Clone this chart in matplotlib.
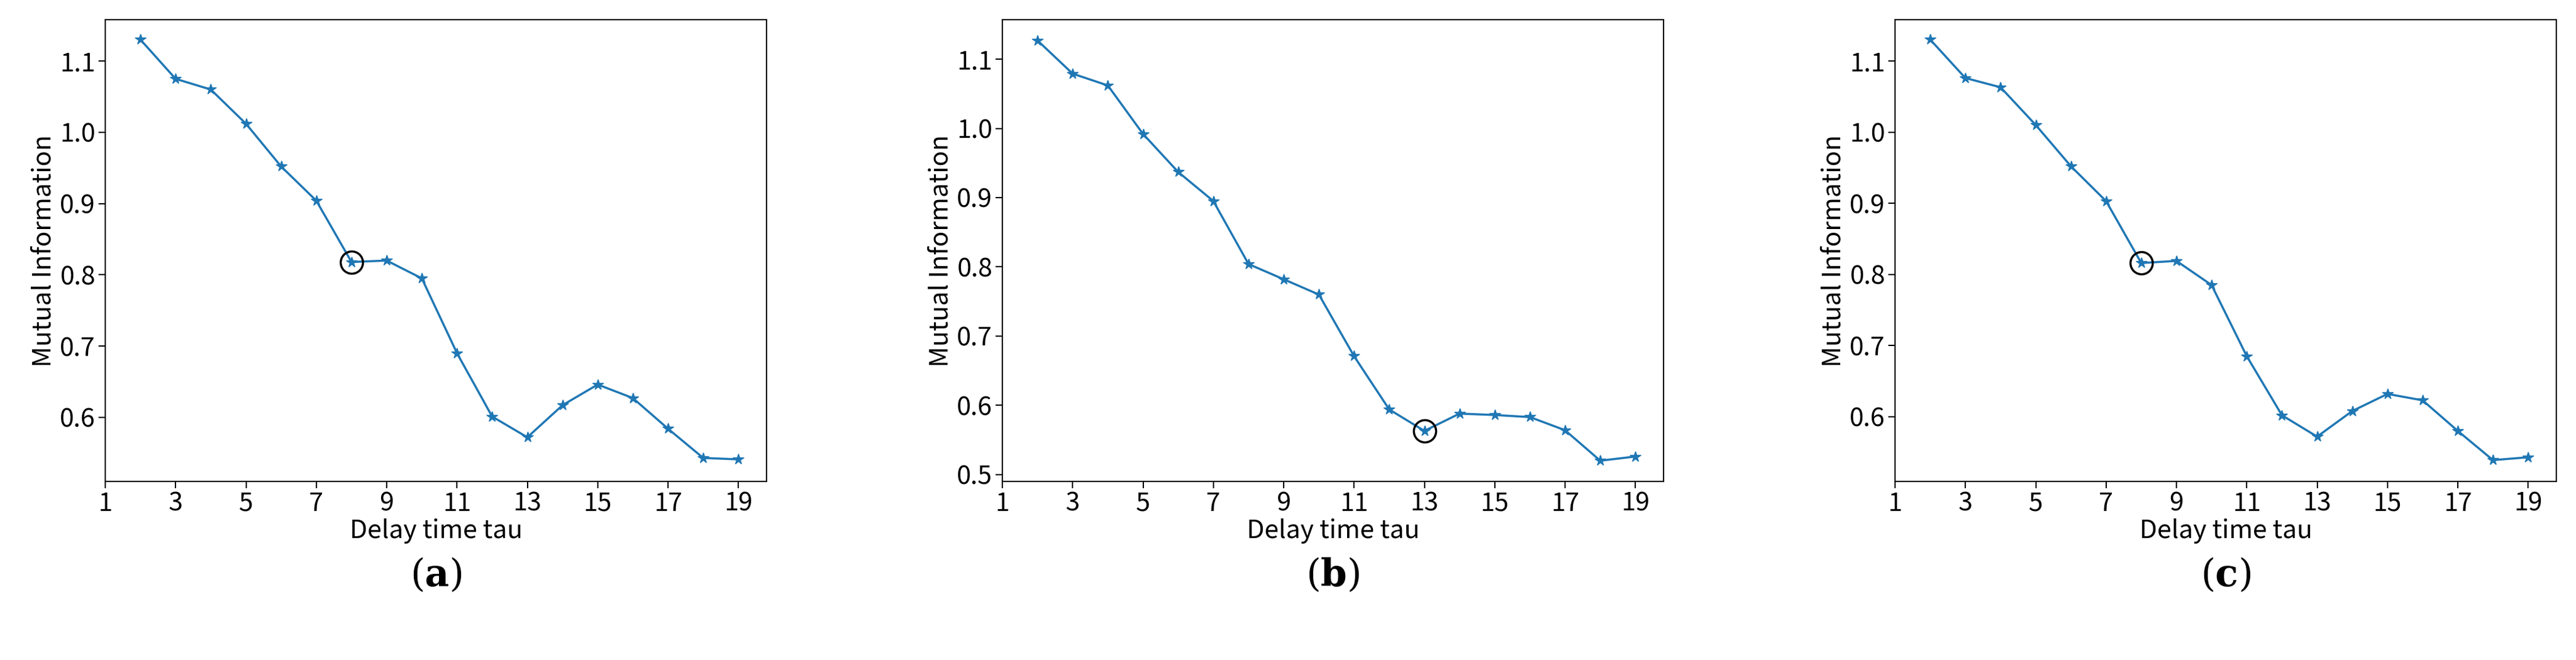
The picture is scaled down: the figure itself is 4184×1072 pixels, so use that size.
import matplotlib
matplotlib.use("Agg")
import matplotlib.pyplot as plt

plt.rcParams["mathtext.fontset"] = "dejavuserif"

tau = list(range(2, 20))
mi_a = [1.130, 1.075, 1.060, 1.012, 0.952, 0.904, 0.818, 0.820, 0.795, 0.690,
        0.601, 0.572, 0.617, 0.646, 0.627, 0.584, 0.543, 0.541]
mi_b = [1.127, 1.079, 1.062, 0.992, 0.937, 0.895, 0.804, 0.782, 0.760, 0.671,
        0.594, 0.563, 0.588, 0.586, 0.583, 0.564, 0.520, 0.526]
mi_c = [1.130, 1.076, 1.063, 1.010, 0.952, 0.903, 0.816, 0.819, 0.785, 0.685,
        0.602, 0.572, 0.608, 0.632, 0.623, 0.580, 0.539, 0.543]
chosen = [8, 13, 8]
labels = ["a", "b", "c"]
xticks = [1, 3, 5, 7, 9, 11, 13, 15, 17, 19]

W, H = 4184, 1072
fig = plt.figure(figsize=(W / 100, H / 100), dpi=100)
lefts = [171, 1628, 3078]
aw = 1074
bottom, top = 782, 32
ylims = [(0.51, 1.158), (0.49, 1.157), (0.509, 1.158)]
font = ["Noto Sans CJK SC", "DejaVu Sans"]

for i, (data, lab) in enumerate(zip([mi_a, mi_b, mi_c], labels)):
    ax = fig.add_axes([lefts[i] / W, 1 - bottom / H, aw / W, (bottom - top) / H])
    ax.plot(tau, data, color="#1f77b4", lw=2.5, marker="*", markersize=13)
    k = tau.index(chosen[i])
    ax.plot([tau[k]], [data[k]], marker="o", markersize=26, mfc="none",
            mec="black", mew=2.5, ls="none")
    ax.set_xlim(1, 19.8)
    ax.set_ylim(*ylims[i])
    ax.set_xticks(xticks)
    ax.set_xticklabels([str(t) for t in xticks], family=font, fontsize=30)
    for t in ax.get_yticklabels():
        t.set_family(font)
        t.set_fontsize(30)
    ax.tick_params(length=8, width=1.5)
    ax.set_xlabel("Delay time tau", family=font, fontsize=30, labelpad=2)
    ax.set_ylabel("Mutual Information", family=font, fontsize=30)
    for s in ax.spines.values():
        s.set_linewidth(1.5)
    fig.text((lefts[i] + aw / 2) / W, 1 - 935 / H, r"($\mathbf{" + lab + r"}$)",
             ha="center", va="center", fontsize=44, family="DejaVu Serif")

fig.savefig("out.png", dpi=100, facecolor="white")
